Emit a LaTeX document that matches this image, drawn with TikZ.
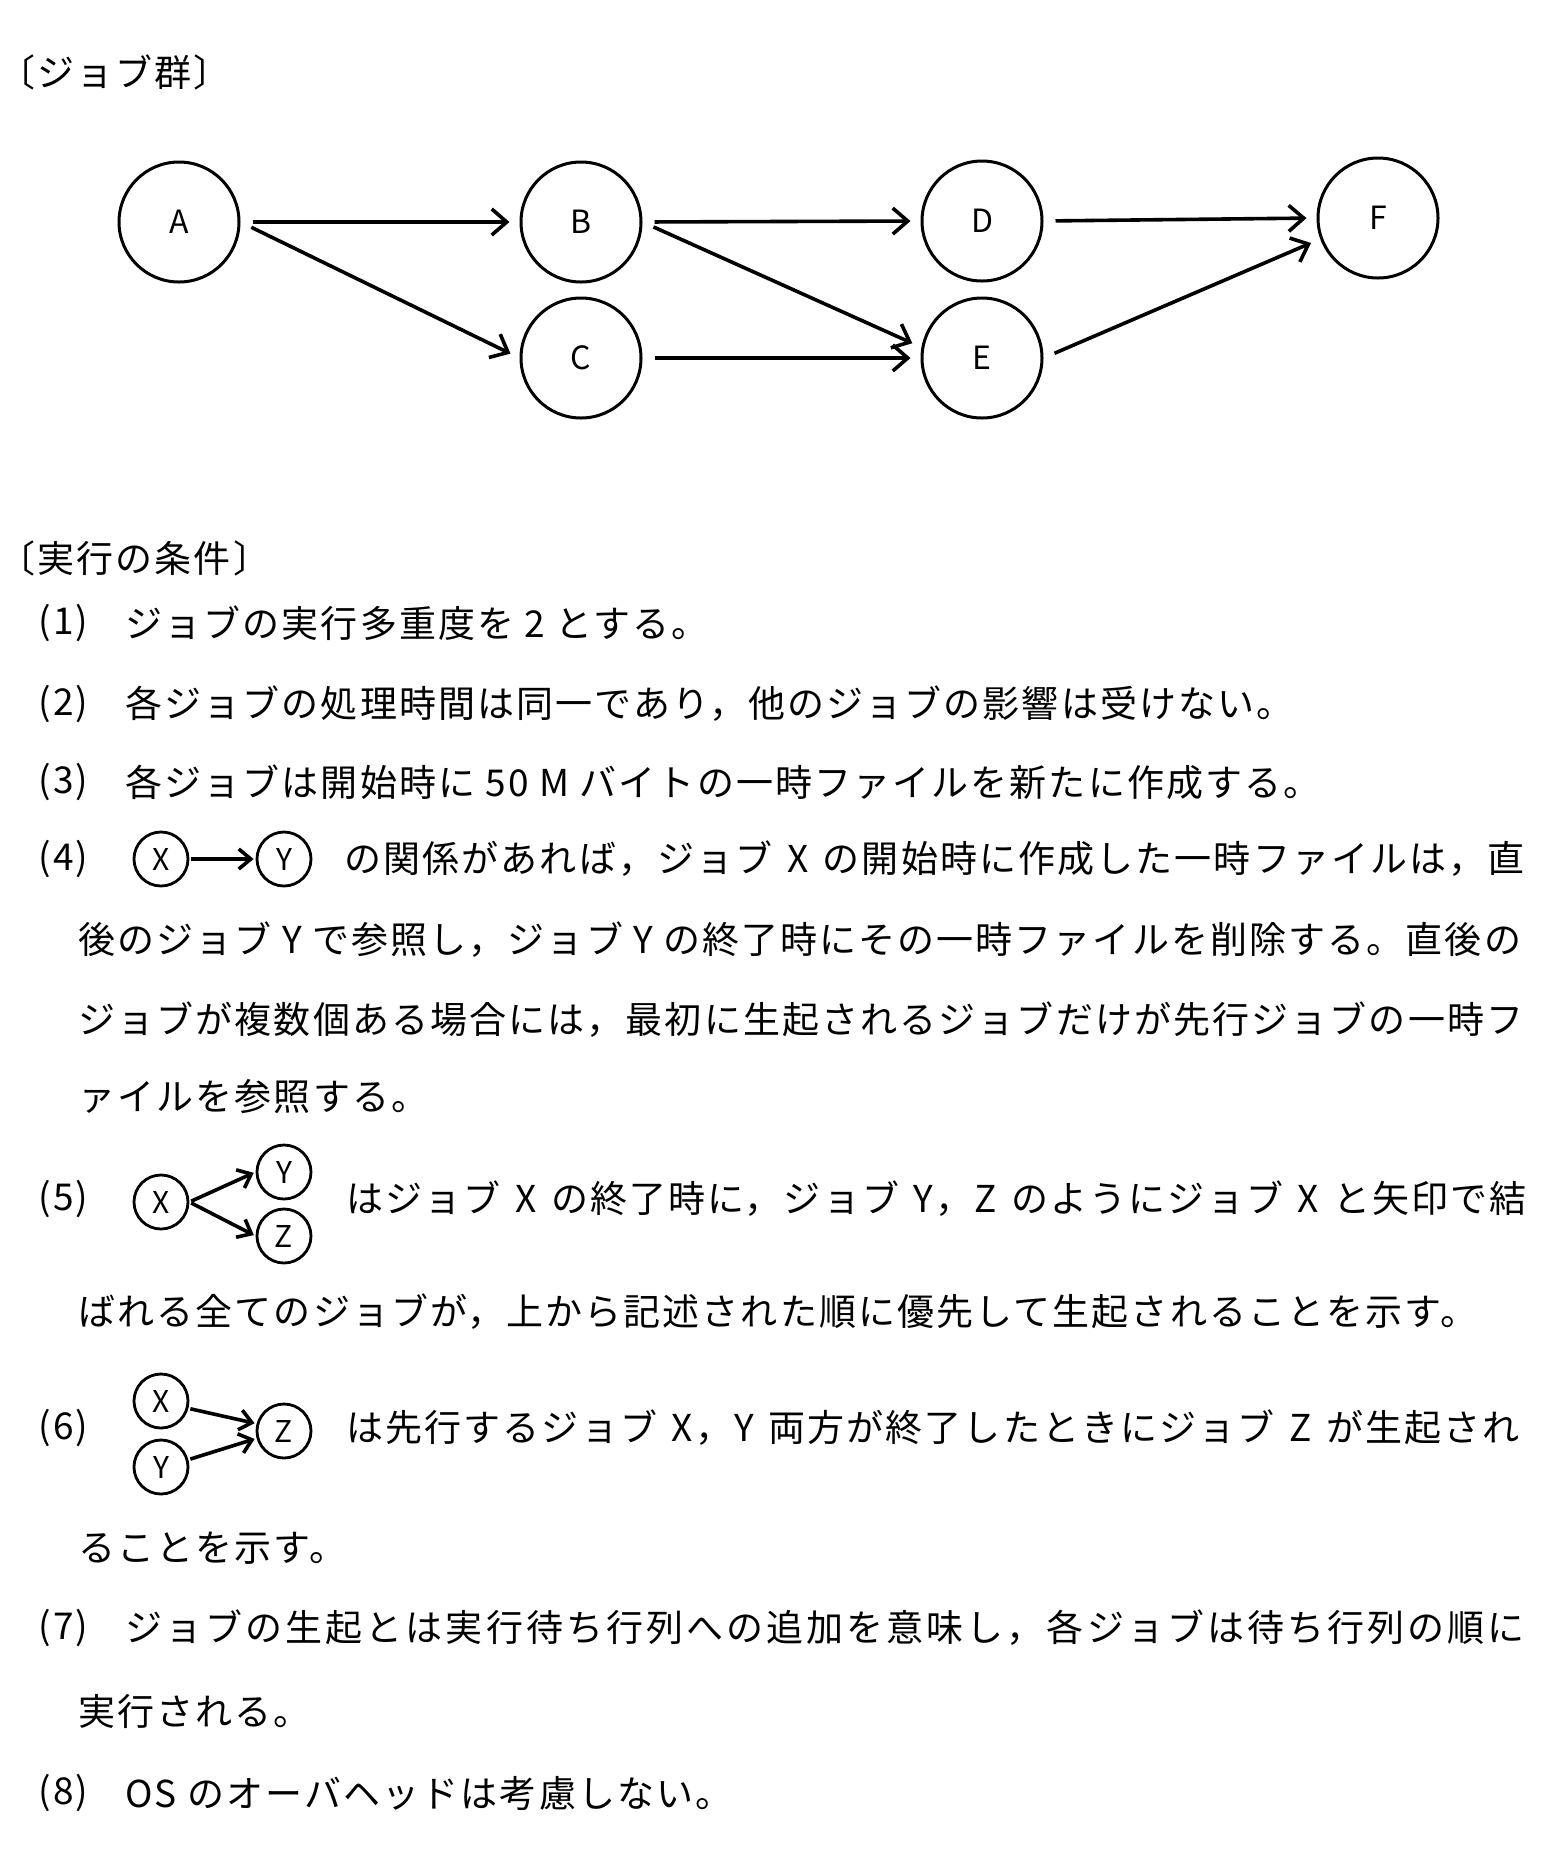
\documentclass[tikz,border=0pt]{standalone}
\usepackage{fontspec}
\usetikzlibrary{arrows.meta}
\newfontfamily\jpfont[LetterSpace=5.7]{Noto Sans CJK JP}
\newfontfamily\jpwide[LetterSpace=8.3]{Noto Sans CJK JP}
\newfontfamily\jplabel{Noto Sans CJK JP}
\newcommand\jsp{\hspace{7.3pt}}

\begin{document}
\begin{tikzpicture}[x=0.5pt,y=-0.5pt]
        \tikzset{
          job/.style={circle, draw, line width=1.5pt, minimum size=60pt, inner sep=0pt,
            font=\jplabel\fontsize{16pt}{16pt}\selectfont},
          minijob/.style={circle, draw, line width=1.4pt, minimum size=27pt, inner sep=0pt,
            font=\jplabel\fontsize{15pt}{15pt}\selectfont},
          link/.style={line width=1.8pt, -{Straight Barb[length=7.5pt,width=13pt]},
            shorten <=6pt, shorten >=5pt},
          minilink/.style={line width=1.8pt, -{Straight Barb[length=6pt,width=10pt]},
            shorten <=1pt, shorten >=1pt},
          txt/.style={anchor=west, inner sep=0pt, font=\jpfont\fontsize{18.5pt}{22pt}\selectfont},
          txtwide/.style={txt, font=\jpwide\fontsize{18.5pt}{22pt}\selectfont}
        }
        \useasboundingbox (0,0) rectangle (1566,1870);
        % job graph
        \node[txt] (title1) at (-2,72) {〔ジョブ群〕};
        \node[job] (A) at (179,222) {A};
        \node[job] (B) at (581,222) {B};
        \node[job] (C) at (581,358) {C};
        \node[job] (D) at (982,221) {D};
        \node[job] (E) at (982,358) {E};
        \node[job] (F) at (1378,218) {F};
        \draw[link] (A.east) -- (B.west);
        \draw[link] (A.east) -- (C.west);
        \draw[link] (B.east) -- (D.west);
        \draw[link] (B.east) -- (E.170);
        \draw[link] (C.east) -- (E.west);
        \draw[link] (D.east) -- (F.west);
        \draw[link] (E.east) -- (F.200);
        % conditions
        \node[txt] (title2) at (-2,558) {〔実行の条件〕};
        \node[txt] (n1) at (38,623) {(1)};
        \node[txt] (t1) at (125,623) {ジョブの実行多重度を 2 とする。};
        \node[txt] (n2) at (38,704) {(2)};
        \node[txt] (t2) at (125,704) {各ジョブの処理時間は同一であり，他のジョブの影響は受けない。};
        \node[txt] (n3) at (38,782) {(3)};
        \node[txt] (t3) at (125,782) {各ジョブは開始時に 50 M バイトの一時ファイルを新たに作成する。};
        \node[txt] (n4) at (38,859) {(4)};
        \node[minijob] (x4) at (161,859) {X};
        \node[minijob] (y4) at (284,859) {Y};
        \draw[minilink] (x4.east) -- (y4.west);
        \node[txt] (t4) at (344,859) {の関係があれば，ジョブ\jsp X\jsp の開始時に作成した一時ファイルは，直};
        \node[txt] (t4b) at (78,940) {後のジョブ Y で参照し，ジョブ Y の終了時にその一時ファイルを削除する。直後の};
        \node[txt] (t4c) at (78,1020) {ジョブが複数個ある場合には，最初に生起されるジョブだけが先行ジョブの一時フ};
        \node[txt] (t4d) at (78,1097) {ァイルを参照する。};
        \node[txt] (n5) at (38,1199) {(5)};
        \node[minijob] (x5) at (161,1202) {X};
        \node[minijob] (y5) at (284,1172) {Y};
        \node[minijob] (z5) at (284,1236) {Z};
        \draw[minilink] (x5.east) -- (y5.west);
        \draw[minilink] (x5.east) -- (z5.west);
        \node[txt] (t5) at (346,1199) {はジョブ\jsp X\jsp の終了時に，ジョブ\jsp Y，Z\jsp のようにジョブ\jsp X\jsp と矢印で結};
        \node[txt] (t5b) at (78,1312) {ばれる全てのジョブが，上から記述された順に優先して生起されることを示す。};
        \node[txt] (n6) at (38,1428) {(6)};
        \node[minijob] (x6) at (161,1401) {X};
        \node[minijob] (y6) at (161,1467) {Y};
        \node[minijob] (z6) at (284,1431) {Z};
        \draw[minilink] (x6.-15) -- (z6.165);
        \draw[minilink] (y6.15) -- (z6.195);
        \node[txt] (t6) at (346,1428) {は先行するジョブ\jsp X，Y\jsp 両方が終了したときにジョブ\jsp Z\jsp が生起され};
        \node[txt] (t6b) at (78,1548) {ることを示す。};
        \node[txt] (n7) at (38,1628) {(7)};
        \node[txtwide] (t7) at (125,1628) {ジョブの生起とは実行待ち行列への追加を意味し，各ジョブは待ち行列の順に};
        \node[txt] (t7b) at (78,1711) {実行される。};
        \node[txt] (n8) at (38,1793) {(8)};
        \node[txt] (t8) at (125,1793) {OS のオーバヘッドは考慮しない。};
\end{tikzpicture}
\end{document}
